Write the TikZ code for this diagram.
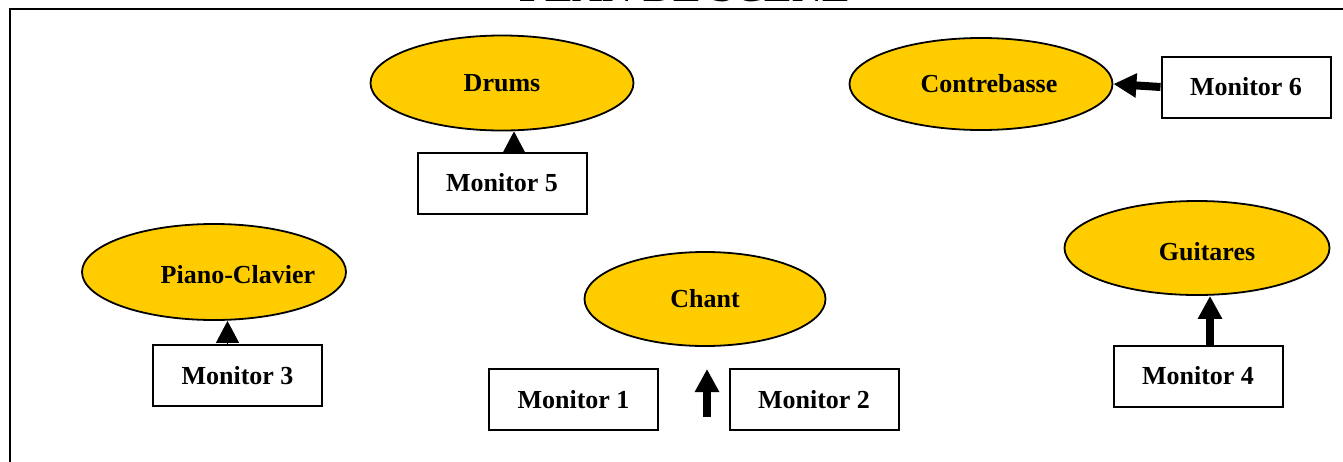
\documentclass[tikz,border=0pt]{standalone}
\usepackage{fontspec}
\setmainfont{Liberation Serif}
\definecolor{color1}{RGB}{255,204,0}
\usetikzlibrary{shapes.geometric,arrows.meta}

\begin{document}
\begin{tikzpicture}[x=0.5pt,y=-0.5pt,
  instrnode/.style={ellipse,draw=black,line width=0.9pt,fill=color1,inner sep=0pt},
  monnode/.style={rectangle,draw=black,line width=1pt,fill=white,minimum width=84.5pt,minimum height=30.5pt,inner sep=0pt},
  textnode/.style={font=\bfseries\fontsize{13}{15}\selectfont},
  bigarrow/.style={line width=4pt,-{Triangle[width=11.5pt,length=11.5pt]}},
  tiparrow/.style={line width=0.5pt,-{Triangle[width=11.5pt,length=11pt]}}
]
\useasboundingbox (0,0) rectangle (1343,461);

% the frame and its title
\draw[line width=1.3pt] (10,9) rectangle (1380,500);
\node[anchor=base,font=\bfseries\fontsize{20.8}{24}\selectfont] (title) at (685,1.5) {PLAN DE SCENE};

% the instruments
\node[instrnode,textnode,minimum width=131.5pt,minimum height=47.5pt] (drums) at (502,83) {Drums};
\node[instrnode,minimum width=131.5pt,minimum height=46pt,
  label={[textnode,name=contretxt,xshift=4pt]center:Contrebasse}] (contre) at (981,84) {};
\node[instrnode,minimum width=132pt,minimum height=48pt,
  label={[textnode,name=pianotxt,xshift=12pt,yshift=-1.5pt]center:Piano-Clavier}] (piano) at (214,272) {};
\node[instrnode,textnode,minimum width=120.5pt,minimum height=47pt] (chant) at (705,299) {Chant};
\node[instrnode,minimum width=132.5pt,minimum height=47pt,
  label={[textnode,name=guittxt,xshift=5pt,yshift=-2pt]center:Guitares}] (guit) at (1197,248) {};

% the monitors
\foreach \n/\x/\y in {1/573.5/399.5, 2/814/399.5, 3/237.5/375.5, 4/1198/376, 5/502/183, 6/1246/87}
    \node[monnode,textnode] (m\n) at (\x,\y) {Monitor \n};

% the arrows
\draw[bigarrow] (m6.west) -- (contre.east);
\draw[bigarrow] ([xshift=6pt]m4.north) -- ([xshift=6pt]m4.north |- guit.south);
\draw[tiparrow] ([xshift=6pt]m5.north) -- ([xshift=6pt]m5.north |- drums.south);
\draw[tiparrow] ([xshift=-5pt]m3.north) -- ([xshift=-5pt]m3.north |- piano.south);

\coordinate (up0) at (707,417);
\coordinate (up1) at (707,369);
\draw[bigarrow] (up0) -- (up1);

\end{tikzpicture}
\end{document}
